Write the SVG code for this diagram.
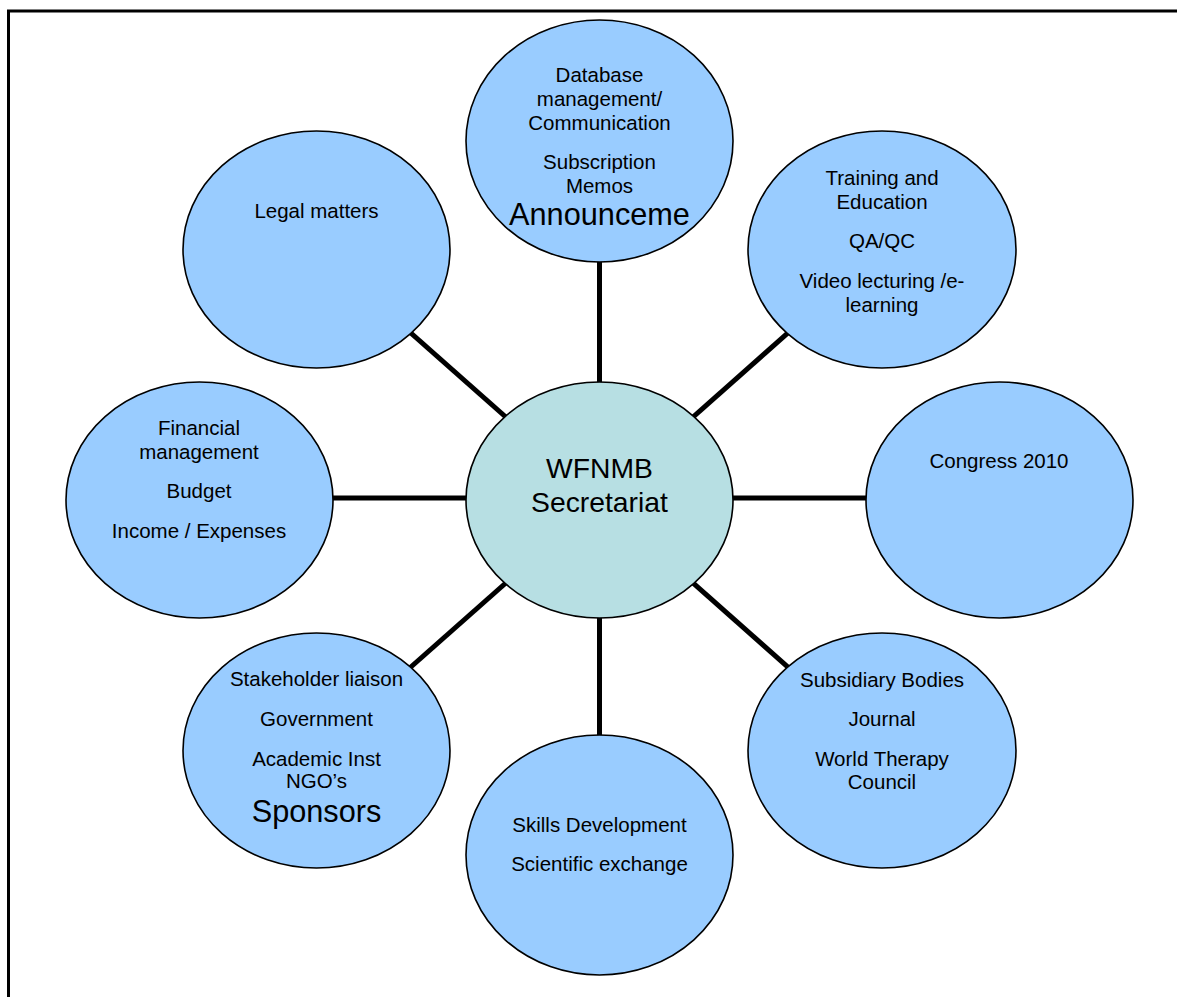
<svg xmlns="http://www.w3.org/2000/svg" width="1177" height="997" viewBox="0 0 1177 997">
  <style>
    .node { fill: #99CCFF; stroke: #000; stroke-width: 1.6; }
    .hub { fill: #B7DFE3; stroke: #000; stroke-width: 1.6; }
    .t { font-family: "Liberation Sans", Arial, sans-serif; font-size: 20.5px; fill: #000; text-anchor: middle; }
    .big { font-size: 30.7px; }
    .hubt { font-size: 28.3px; }
    .conn line { stroke: #000; stroke-width: 5; }
  </style>
  <rect width="1177" height="997" fill="#fff"/>
  <polyline points="8.5,997 8.5,11 1177,11" fill="none" stroke="#000" stroke-width="3"/>
  <g id="connectors" class="conn">
    <line x1="599.5" y1="500" x2="599.5" y2="141"/>
    <line x1="599.5" y1="500" x2="316.5" y2="249.5"/>
    <line x1="599.5" y1="500" x2="882" y2="249.5"/>
    <line x1="599.5" y1="498" x2="199.5" y2="498"/>
    <line x1="599.5" y1="498" x2="999.5" y2="498"/>
    <line x1="599.5" y1="500" x2="316.5" y2="750.5"/>
    <line x1="599.5" y1="500" x2="882" y2="750.5"/>
    <line x1="599.5" y1="500" x2="599.5" y2="855"/>
  </g>
  <g id="hub">
    <ellipse class="hub" cx="599.5" cy="500" rx="133.5" ry="118"/>
    <text class="t hubt" x="599.5" y="478">WFNMB</text>
    <text class="t hubt" x="599.5" y="512">Secretariat</text>
  </g>
  <g id="database">
    <ellipse class="node" cx="599.5" cy="141" rx="133.5" ry="121"/>
    <text class="t" x="599.5" y="81.7">Database</text>
    <text class="t" x="599.5" y="105.7">management/</text>
    <text class="t" x="599.5" y="130">Communication</text>
    <text class="t" x="599.5" y="169">Subscription</text>
    <text class="t" x="599.5" y="193">Memos</text>
    <text class="t big" x="599.5" y="225">Announceme</text>
  </g>
  <g id="legal">
    <ellipse class="node" cx="316.5" cy="249.5" rx="133.5" ry="118.5"/>
    <text class="t" x="316.5" y="217.7">Legal matters</text>
  </g>
  <g id="training">
    <ellipse class="node" cx="882" cy="249.5" rx="134" ry="118.5"/>
    <text class="t" x="882" y="185">Training and</text>
    <text class="t" x="882" y="209.3">Education</text>
    <text class="t" x="882" y="248.3">QA/QC</text>
    <text class="t" x="882" y="288.3">Video lecturing /e-</text>
    <text class="t" x="882" y="311.7">learning</text>
  </g>
  <g id="financial">
    <ellipse class="node" cx="199.5" cy="500" rx="133.5" ry="118"/>
    <text class="t" x="199" y="435">Financial</text>
    <text class="t" x="199" y="459.3">management</text>
    <text class="t" x="199" y="498.3">Budget</text>
    <text class="t" x="199" y="538.3">Income / Expenses</text>
  </g>
  <g id="congress">
    <ellipse class="node" cx="999.5" cy="500" rx="133.5" ry="118"/>
    <text class="t" x="999" y="468.3">Congress 2010</text>
  </g>
  <g id="stakeholder">
    <ellipse class="node" cx="316.5" cy="750.5" rx="133.5" ry="117.5"/>
    <text class="t" x="316.5" y="686">Stakeholder liaison</text>
    <text class="t" x="316.5" y="726">Government</text>
    <text class="t" x="316.5" y="766">Academic Inst</text>
    <text class="t" x="316.5" y="788.3">NGO’s</text>
    <text class="t big" x="316.5" y="821.7">Sponsors</text>
  </g>
  <g id="subsidiary">
    <ellipse class="node" cx="882" cy="750.5" rx="134" ry="117.5"/>
    <text class="t" x="882" y="687.3">Subsidiary Bodies</text>
    <text class="t" x="882" y="726">Journal</text>
    <text class="t" x="882" y="766">World Therapy</text>
    <text class="t" x="882" y="789.3">Council</text>
  </g>
  <g id="skills">
    <ellipse class="node" cx="599.5" cy="855" rx="133.5" ry="120"/>
    <text class="t" x="599.5" y="832">Skills Development</text>
    <text class="t" x="599.5" y="871">Scientific exchange</text>
  </g>
</svg>
